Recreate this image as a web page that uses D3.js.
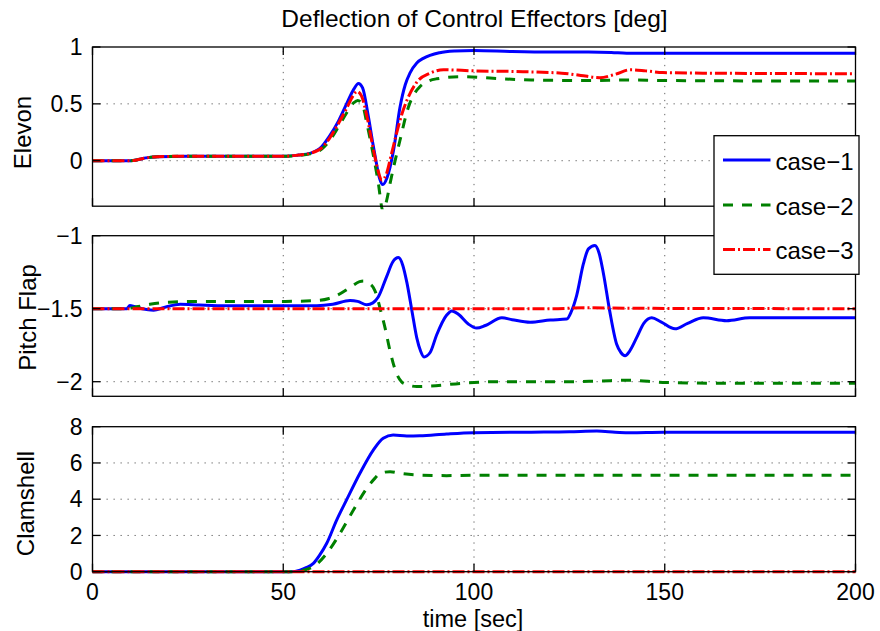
<!DOCTYPE html>
<html><head><meta charset="utf-8">
<script src="https://cdn.jsdelivr.net/npm/d3@7/dist/d3.min.js"></script>
<style>
body{margin:0;background:#fff}
svg{display:block}
text{font-family:"Liberation Sans",Arial,Helvetica,sans-serif;fill:#000}
</style>
</head><body>
<svg id="chart" width="880" height="631"></svg>
<script>
// ---------------- DATA ----------------
const chartTitle = "Deflection of Control Effectors [deg]";
const xLabel = "time [sec]";
const caseNames = ["case−1", "case−2", "case−3"];
const panelLabels = ["Elevon", "Pitch Flap", "Clamshell"];
const timeTicks = [0, 50, 100, 150, 200];
const elevonTicks = [0, 0.5, 1];
const pitchTicks = [-2, -1.5, -1];
const clamTicks = [0, 2, 4, 6, 8];

const elevonCase1 = [[0,0],[10,0],[12,0.01],[14,0.025],[17,0.035],[25,0.04],[40,0.04],[51,0.04],[54,0.05],[57,0.065],[60,0.12],[62,0.21],[64.5,0.35],[66.6,0.5],[68.5,0.63],[69.7,0.68],[70.8,0.64],[72.3,0.39],[73.5,0.15],[74.3,0.0],[75.2,-0.15],[76.1,-0.21],[77.2,-0.15],[78.9,0.09],[80.6,0.47],[82,0.67],[83.2,0.77],[85,0.86],[86.7,0.9],[91,0.95],[95,0.965],[100,0.97],[110,0.96],[120,0.955],[130,0.955],[136,0.952],[140,0.945],[150,0.945],[200,0.945]];
const elevonCase2 = [[0,0],[10,0],[12,0.01],[14,0.025],[17,0.035],[25,0.04],[51,0.04],[54,0.045],[57,0.06],[60,0.1],[62,0.17],[64.5,0.3],[66.6,0.42],[68.5,0.51],[69.5,0.53],[70.7,0.5],[71.9,0.33],[73.6,0.05],[74.8,-0.17],[76.2,-0.45],[77.1,-0.35],[78,-0.2],[80.6,0.18],[82.8,0.47],[84.2,0.58],[85.8,0.65],[88,0.7],[90.2,0.72],[97,0.74],[105,0.725],[115,0.71],[130,0.705],[140,0.71],[150,0.705],[200,0.7]];
const elevonCase3 = [[0,0],[10,0],[12,0.01],[14,0.025],[17,0.035],[25,0.04],[51,0.04],[54,0.05],[57,0.065],[60,0.11],[62,0.19],[64.5,0.33],[66.6,0.46],[68.3,0.57],[69.3,0.61],[70.5,0.57],[72,0.38],[73.5,0.12],[74.8,-0.08],[75.8,-0.17],[77,-0.12],[78.3,0.05],[79.7,0.24],[81,0.4],[82.4,0.53],[85,0.69],[88.5,0.77],[92,0.8],[100,0.79],[110,0.785],[123,0.77],[128,0.75],[133,0.73],[137,0.76],[141,0.8],[145,0.79],[149.5,0.775],[160,0.77],[200,0.765]];

const pitchCase1 = [[0,-1.5],[9,-1.5],[9.8,-1.478],[11,-1.485],[13,-1.5],[16,-1.51],[19,-1.49],[23,-1.47],[28,-1.475],[35,-1.48],[58.8,-1.48],[63,-1.47],[67.5,-1.444],[69.5,-1.45],[71.9,-1.473],[73.5,-1.46],[74.9,-1.42],[77.1,-1.28],[78.7,-1.18],[80.2,-1.15],[81.3,-1.2],[82.4,-1.32],[83.7,-1.51],[85,-1.7],[86,-1.79],[86.9,-1.83],[88.5,-1.8],[90.2,-1.68],[92.8,-1.545],[94.2,-1.515],[96,-1.54],[98.5,-1.605],[100.7,-1.633],[103,-1.615],[107.3,-1.562],[110,-1.575],[114.7,-1.593],[120,-1.578],[124.3,-1.571],[125.5,-1.52],[126.9,-1.41],[128.7,-1.19],[130,-1.09],[131.7,-1.067],[132.8,-1.12],[133.9,-1.255],[135.6,-1.52],[137.4,-1.744],[138.5,-1.8],[139.6,-1.822],[140.8,-1.79],[142.6,-1.7],[144.5,-1.6],[146.6,-1.562],[149,-1.59],[152.7,-1.638],[156,-1.6],[160.1,-1.562],[166.2,-1.582],[172.3,-1.562],[180,-1.562],[200,-1.562]];
const pitchCase2 = [[0,-1.5],[9,-1.5],[12,-1.485],[15,-1.47],[20,-1.455],[30,-1.45],[50,-1.45],[58.8,-1.444],[62,-1.43],[64,-1.41],[67.5,-1.355],[70,-1.315],[71,-1.31],[72.5,-1.325],[73.6,-1.355],[74.5,-1.41],[75.4,-1.5],[76.7,-1.633],[78,-1.79],[79.7,-1.944],[81,-2.0],[82.4,-2.02],[85,-2.033],[88.5,-2.03],[97.2,-2.01],[106,-2.0],[125,-2.0],[133,-1.995],[141,-1.99],[149.5,-2.005],[162.6,-2.01],[200,-2.01]];
const pitchCase3 = [[0,-1.5],[120,-1.5],[130,-1.493],[140,-1.497],[200,-1.5]];

const clamCase1 = [[0,0],[52,0],[54.4,0.09],[56,0.22],[57.9,0.46],[59.5,0.9],[61.4,1.57],[64,2.85],[66.6,3.96],[70.1,5.43],[73.6,6.71],[76.2,7.36],[78.8,7.54],[82.4,7.49],[85.8,7.5],[92.8,7.6],[99.8,7.67],[115,7.7],[125,7.72],[132.2,7.76],[137,7.7],[140.9,7.66],[149.6,7.69],[200,7.69]];
const clamCase2 = [[0,0],[53,0],[54.4,0.03],[56,0.12],[57.9,0.28],[61.4,1.01],[64.9,2.12],[68.4,3.4],[71.9,4.6],[74,5.15],[75.4,5.43],[78,5.52],[81,5.42],[85,5.34],[92.8,5.3],[100,5.32],[200,5.32]];
const clamCase3 = [[0,0],[200,0]];

// ---------------- LAYOUT / STYLE ----------------
const svg = d3.select("#chart");
const X0 = 92.5, X1 = 855.5;
const x = d3.scaleLinear().domain([0, 200]).range([X0, X1]);

const panels = [
  {label: panelLabels[0], domain: [-0.4, 1], range: [206.2, 47], ticks: elevonTicks, series: [elevonCase1, elevonCase2, elevonCase3], labelX: 31, labelY: 132.5, xLabels: false},
  {label: panelLabels[1], domain: [-2.1, -1], range: [396.3, 235.7], ticks: pitchTicks, series: [pitchCase1, pitchCase2, pitchCase3], labelX: 36, labelY: 317.5, xLabels: false},
  {label: panelLabels[2], domain: [0, 8], range: [571.7, 426.7], ticks: clamTicks, series: [clamCase1, clamCase2, clamCase3], labelX: 34, labelY: 503.5, xLabels: true}
];

const styles = [
  {color: "#0000ff", dash: null},
  {color: "#008000", dash: "10,9"},
  {color: "#ff0000", dash: "12,3,2,3"}
];

const fmt = d => d < 0 ? "−" + Math.abs(d) : String(d);
const tickLen = 8;

panels.forEach((p, i) => {
  const y = d3.scaleLinear().domain(p.domain).range(p.range);
  const top = p.range[1], bot = p.range[0];
  const g = svg.append("g");

  // grid
  const grid = g.append("g").attr("stroke", "#000").attr("stroke-opacity", 0.6)
    .attr("stroke-width", 1).attr("stroke-dasharray", "1.3,5.7");
  timeTicks.forEach(t => {
    if (t === 0 || t === 200) return;
    grid.append("line").attr("x1", x(t)).attr("x2", x(t)).attr("y1", bot).attr("y2", top);
  });
  p.ticks.forEach(v => {
    const yy = y(v);
    if (Math.abs(yy - top) < 1 || Math.abs(yy - bot) < 1) return;
    grid.append("line").attr("x1", X0).attr("x2", X1).attr("y1", yy).attr("y2", yy);
  });

  // clip
  const cid = "clip" + i;
  svg.append("clipPath").attr("id", cid).append("rect")
    .attr("x", X0 - 3).attr("y", top - 3).attr("width", X1 - X0 + 6).attr("height", bot - top + 6);

  // lines
  const line = d3.line().x(d => x(d[0])).y(d => y(d[1])).curve(d3.curveMonotoneX);
  const lg = g.append("g").attr("clip-path", `url(#${cid})`);
  p.series.forEach((s, k) => {
    lg.append("path").datum(s).attr("d", line)
      .attr("fill", "none").attr("stroke", styles[k].color).attr("stroke-width", 3)
      .attr("stroke-linejoin", "round")
      .attr("stroke-dasharray", styles[k].dash);
  });

  // box
  g.append("rect").attr("x", X0).attr("y", top).attr("width", X1 - X0).attr("height", bot - top)
    .attr("fill", "none").attr("stroke", "#000").attr("stroke-width", 1.3);

  // ticks (inward, all sides)
  const tk = g.append("g").attr("stroke", "#000").attr("stroke-width", 1.3);
  timeTicks.forEach(t => {
    tk.append("line").attr("x1", x(t)).attr("x2", x(t)).attr("y1", bot).attr("y2", bot - tickLen);
    tk.append("line").attr("x1", x(t)).attr("x2", x(t)).attr("y1", top).attr("y2", top + tickLen);
  });
  p.ticks.forEach(v => {
    tk.append("line").attr("x1", X0).attr("x2", X0 + tickLen).attr("y1", y(v)).attr("y2", y(v));
    tk.append("line").attr("x1", X1).attr("x2", X1 - tickLen).attr("y1", y(v)).attr("y2", y(v));
  });

  // y tick labels
  p.ticks.forEach(v => {
    g.append("text").attr("x", X0 - 10).attr("y", y(v)).attr("dy", "0.36em")
      .attr("text-anchor", "end").attr("font-size", 23).text(fmt(v));
  });

  // x tick labels
  if (p.xLabels) {
    timeTicks.forEach(t => {
      g.append("text").attr("x", x(t)).attr("y", 600)
        .attr("text-anchor", "middle").attr("font-size", 23).text(fmt(t));
    });
  }

  // y label
  g.append("text").attr("transform", `translate(${p.labelX},${p.labelY}) rotate(-90)`)
    .attr("text-anchor", "middle").attr("font-size", 24).text(p.label);
});

// title & x label
svg.append("text").attr("x", 474.5).attr("y", 27).attr("text-anchor", "middle")
  .attr("font-size", 24.5).text(chartTitle);
svg.append("text").attr("x", 473).attr("y", 626.5).attr("text-anchor", "middle")
  .attr("font-size", 23.5).text(xLabel);

// legend
const lgd = svg.append("g");
lgd.append("rect").attr("x", 714).attr("y", 135.7).attr("width", 145).attr("height", 138.6)
  .attr("fill", "#fff").attr("stroke", "#000").attr("stroke-width", 1.3);
const legendY = [160, 205, 249.5];
caseNames.forEach((name, k) => {
  lgd.append("line").attr("x1", 723).attr("x2", 770.5).attr("y1", legendY[k]).attr("y2", legendY[k])
    .attr("stroke", styles[k].color).attr("stroke-width", 3).attr("stroke-dasharray", styles[k].dash);
  lgd.append("text").attr("x", 775.5).attr("y", legendY[k] + 9.5).attr("font-size", 24).text(name);
});
</script>
</body></html>
